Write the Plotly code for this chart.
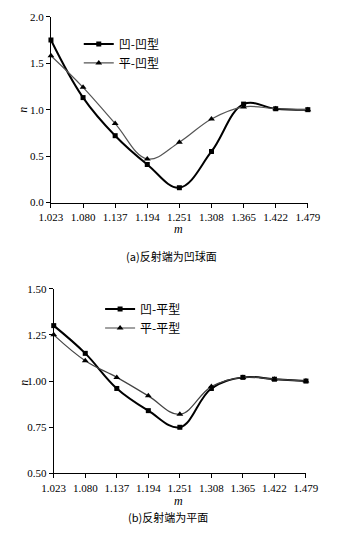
import plotly.graph_objects as go

W, H = 344, 546

# shared horizontal axis values
m_vals = [1.023, 1.080, 1.137, 1.194, 1.251, 1.308, 1.365, 1.422, 1.479]
m_ticks = ["1.023", "1.080", "1.137", "1.194", "1.251", "1.308", "1.365", "1.422", "1.479"]

# (a) concave spherical reflecting end
n_aa = [1.75, 1.13, 0.72, 0.41, 0.16, 0.55, 1.06, 1.01, 1.00]   # 凹-凹型
n_pa = [1.58, 1.24, 0.85, 0.47, 0.65, 0.90, 1.03, 1.01, 1.00]   # 平-凹型
y_ticks_a = [0.0, 0.5, 1.0, 1.5, 2.0]
y_ticktext_a = ["0.0", "0.5", "1.0", "1.5", "2.0"]

# (b) flat reflecting end
n_ap = [1.30, 1.15, 0.96, 0.84, 0.75, 0.96, 1.02, 1.01, 1.00]   # 凹-平型
n_pp = [1.25, 1.11, 1.02, 0.92, 0.82, 0.97, 1.02, 1.01, 1.00]   # 平-平型
y_ticks_b = [0.50, 0.75, 1.00, 1.25, 1.50]
y_ticktext_b = ["0.50", "0.75", "1.00", "1.25", "1.50"]

SERIF = "Liberation Serif, DejaVu Serif, serif"
CJK = "Noto Sans CJK SC"

def px_x(p):
    return p / W

def px_y(p):
    return 1 - p / H

fig = go.Figure()

def add_series(x, y, name, symbol, width, color, msize, xa, ya, legend):
    fig.add_trace(go.Scatter(
        x=x, y=y, name=name, mode="lines+markers",
        line=dict(shape="spline", smoothing=1.1, width=width, color=color),
        marker=dict(symbol=symbol, size=msize, color="black"),
        xaxis=xa, yaxis=ya, legend=legend, cliponaxis=False,
    ))

add_series(m_vals, n_aa, "凹-凹型", "square", 2.0, "black", 5, "x", "y", "legend")
add_series(m_vals, n_pa, "平-凹型", "triangle-up", 1.2, "#555555", 6, "x", "y", "legend")
add_series(m_vals, n_ap, "凹-平型", "square", 2.0, "black", 5, "x2", "y2", "legend2")
add_series(m_vals, n_pp, "平-平型", "triangle-up", 1.2, "#444444", 6, "x2", "y2", "legend2")

axis_common = dict(
    showline=True, linecolor="black", linewidth=1,
    ticks="outside", ticklen=4, tickwidth=1, tickcolor="black",
    showgrid=False, zeroline=False,
    tickfont=dict(family=SERIF, size=11, color="black"),
)

fig.update_layout(
    width=W, height=H,
    margin=dict(l=0, r=0, t=0, b=0),
    paper_bgcolor="white", plot_bgcolor="white",
    showlegend=True,
    xaxis=dict(domain=[px_x(42), px_x(319)], range=[1.023, 1.479],
               tickvals=m_vals, ticktext=m_ticks, anchor="y", **axis_common),
    yaxis=dict(domain=[px_y(201), px_y(11)], range=[0, 2.0],
               tickvals=y_ticks_a, ticktext=y_ticktext_a, anchor="x", **axis_common),
    xaxis2=dict(domain=[px_x(45), px_x(317)], range=[1.023, 1.479],
                tickvals=m_vals, ticktext=m_ticks, anchor="y2", **axis_common),
    yaxis2=dict(domain=[px_y(478), px_y(289)], range=[0.5, 1.5],
                tickvals=y_ticks_b, ticktext=y_ticktext_b, anchor="x2", **axis_common),
    legend=dict(x=px_x(72), y=px_y(24), xanchor="left", yanchor="top",
                bgcolor="rgba(0,0,0,0)", itemwidth=30, tracegroupgap=0,
                font=dict(family=CJK, size=12, color="black")),
    legend2=dict(x=px_x(95), y=px_y(295), xanchor="left", yanchor="top",
                 bgcolor="rgba(0,0,0,0)", itemwidth=30, tracegroupgap=0,
                 font=dict(family=CJK, size=12, color="black")),
)

annotations = [
    dict(text="<i>m</i>", x=px_x(180), y=px_y(228), font=dict(family=SERIF, size=12)),
    dict(text="<i>n</i>", x=px_x(12), y=px_y(106), font=dict(family=SERIF, size=12), textangle=-90),
    dict(text="(a)反射端为凹球面", x=px_x(172), y=px_y(256), font=dict(family=CJK, size=11)),
    dict(text="<i>m</i>", x=px_x(180), y=px_y(506), font=dict(family=SERIF, size=12)),
    dict(text="<i>n</i>", x=px_x(12), y=px_y(385), font=dict(family=SERIF, size=12), textangle=-90),
    dict(text="(b)反射端为平面", x=px_x(168), y=px_y(522), font=dict(family=CJK, size=11)),
]
for a in annotations:
    a.update(xref="paper", yref="paper", showarrow=False, xanchor="center", yanchor="middle")
    a["font"]["color"] = "black"
fig.update_layout(annotations=annotations)

fig.write_html("out.html")
